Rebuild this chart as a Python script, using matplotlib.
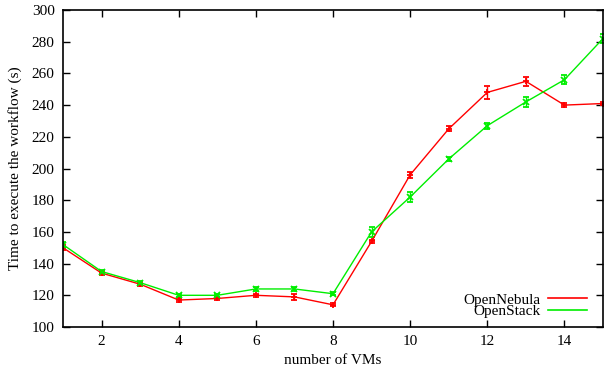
import matplotlib
matplotlib.use('Agg')
import matplotlib.pyplot as plt
from matplotlib.lines import Line2D

# data
vms = [1, 2, 3, 4, 5, 6, 7, 8, 9, 10, 11, 12, 13, 14, 15]
nebula = [150, 134, 127, 117, 118, 120, 119, 114, 154, 196, 225, 248, 255, 240, 241]
nebula_err = [1.5, 1, 1, 1, 1, 1, 2, 1, 1, 2, 1.5, 4, 3, 1.5, 1]
stack = [152, 135, 128, 120, 120, 124, 124, 121, 160, 182, 206, 227, 242, 256, 282]
stack_err = [1.5, 1, 1, 1, 1, 1.5, 1.5, 1, 3, 3, 1, 2, 3, 3, 3]
labels = ['OpenNebula', 'OpenStack']
colors = ['#ff0000', '#00ee00']

plt.rcParams['font.family'] = ['Liberation Serif', 'DejaVu Serif']
plt.rcParams['font.size'] = 11

fig = plt.figure(figsize=(6.09, 3.69), dpi=100)
ax = fig.add_axes([63 / 609, 42 / 369, 540 / 609, 317 / 369])

ax.errorbar(vms, nebula, yerr=nebula_err, color=colors[0], lw=1, marker='+', ms=5,
            mew=1.3, capsize=2.5, elinewidth=1)
ax.errorbar(vms, stack, yerr=stack_err, color=colors[1], lw=1, marker='x', ms=4,
            mew=1.3, capsize=2.5, elinewidth=1)

ax.set_xlim(1, 15)
ax.set_ylim(100, 300)
ax.set_xticks([2, 4, 6, 8, 10, 12, 14])
ax.set_yticks(range(100, 301, 20))
ax.tick_params(direction='in', top=True, right=True, length=5, width=1, pad=6)
for s in ax.spines.values():
    s.set_linewidth(1.2)
ax.set_xlabel('number of VMs', labelpad=4)
ax.set_ylabel('Time to execute the workflow (s)', labelpad=7)

handles = [Line2D([], [], color=c, lw=1.2) for c in colors]
ax.legend(handles, labels, loc='lower right', frameon=False, markerfirst=False,
          bbox_to_anchor=(587 / 609, 1 - 318 / 369), bbox_transform=fig.transFigure,
          borderaxespad=0, borderpad=0, handlelength=2.55, labelspacing=-0.15,
          handletextpad=0.5)

fig.savefig('out.png', dpi=100)
